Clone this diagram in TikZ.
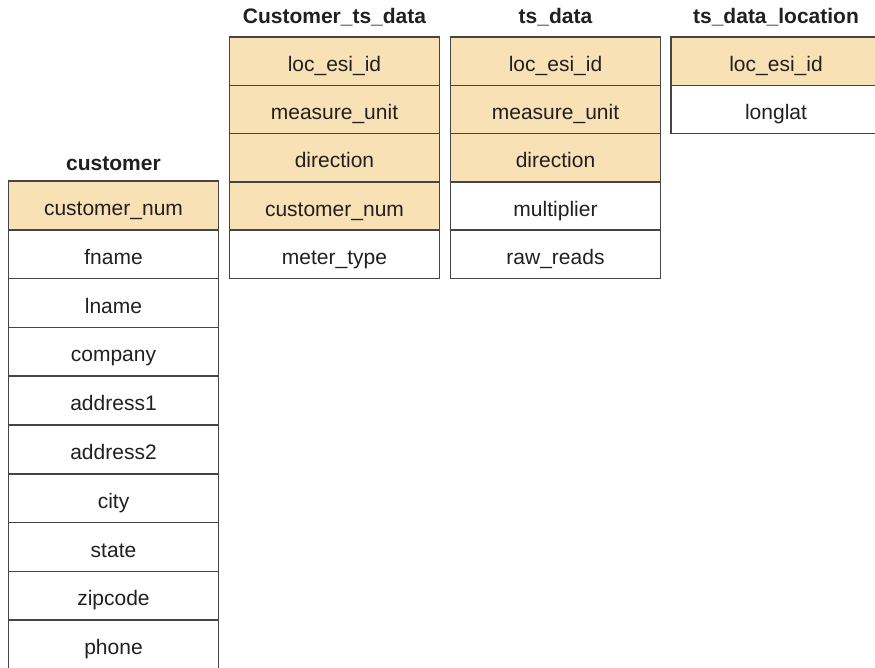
\documentclass[tikz,border=0pt]{standalone}
\usepackage{fontspec}
\setmainfont{Liberation Sans}
\definecolor{keyfill}{HTML}{F9E1B6}
\definecolor{edge}{HTML}{454545}
\definecolor{ink}{HTML}{231F20}
\tikzset{
  field/.style={draw=edge, line width=1.6pt, rectangle, minimum width=210pt, inner sep=0pt,
    text height=20pt, text depth=-2.4pt,
    text=ink, font=\fontsize{21}{24}\selectfont, fill=white},
  keyfield/.style={field, fill=keyfill},
  title/.style={text=ink, font=\fontsize{21}{24}\selectfont\bfseries, inner sep=0pt, anchor=base}
}
\begin{document}
\begin{tikzpicture}[x=1pt,y=-1pt]
\useasboundingbox (0,0) rectangle (875,667);
\clip (0,0) rectangle (875,667);
% customer table
\node[title] (tcust) at (113.5,170) {customer};
\foreach \t [count=\i] in {customer\_num,fname,lname,company,address1,address2,city,state,zipcode,phone}{
  \ifnum\i=1
    \node[keyfield, minimum height=48.8pt] (cust\i) at (113.5,{181+48.8*(\i-0.5)}) {\t};
  \else
    \node[field, minimum height=48.8pt] (cust\i) at (113.5,{181+48.8*(\i-0.5)}) {\t};
  \fi
}
% Customer_ts_data
\node[title] (tcts) at (334.5,23.5) {Customer\_ts\_data};
\foreach \t [count=\i] in {loc\_esi\_id,measure\_unit,direction,customer\_num,meter\_type}{
  \ifnum\i<5
    \node[keyfield, minimum height=48.3pt] (cts\i) at (334.5,{37+48.3*(\i-0.5)}) {\t};
  \else
    \node[field, minimum height=48.3pt] (cts\i) at (334.5,{37+48.3*(\i-0.5)}) {\t};
  \fi
}
% ts_data
\node[title] (tts) at (555.5,23.5) {ts\_data};
\foreach \t [count=\i] in {loc\_esi\_id,measure\_unit,direction,multiplier,raw\_reads}{
  \ifnum\i<4
    \node[keyfield, minimum height=48.3pt] (ts\i) at (555.5,{37+48.3*(\i-0.5)}) {\t};
  \else
    \node[field, minimum height=48.3pt] (ts\i) at (555.5,{37+48.3*(\i-0.5)}) {\t};
  \fi
}
% ts_data_location
\node[title] (ttl) at (776,23.5) {ts\_data\_location};
\node[keyfield, minimum height=48.3pt] (tl1) at (776,{37+48.3*0.5}) {loc\_esi\_id};
\node[field, minimum height=48.3pt] (tl2) at (776,{37+48.3*1.5}) {longlat};
\end{tikzpicture}
\end{document}
